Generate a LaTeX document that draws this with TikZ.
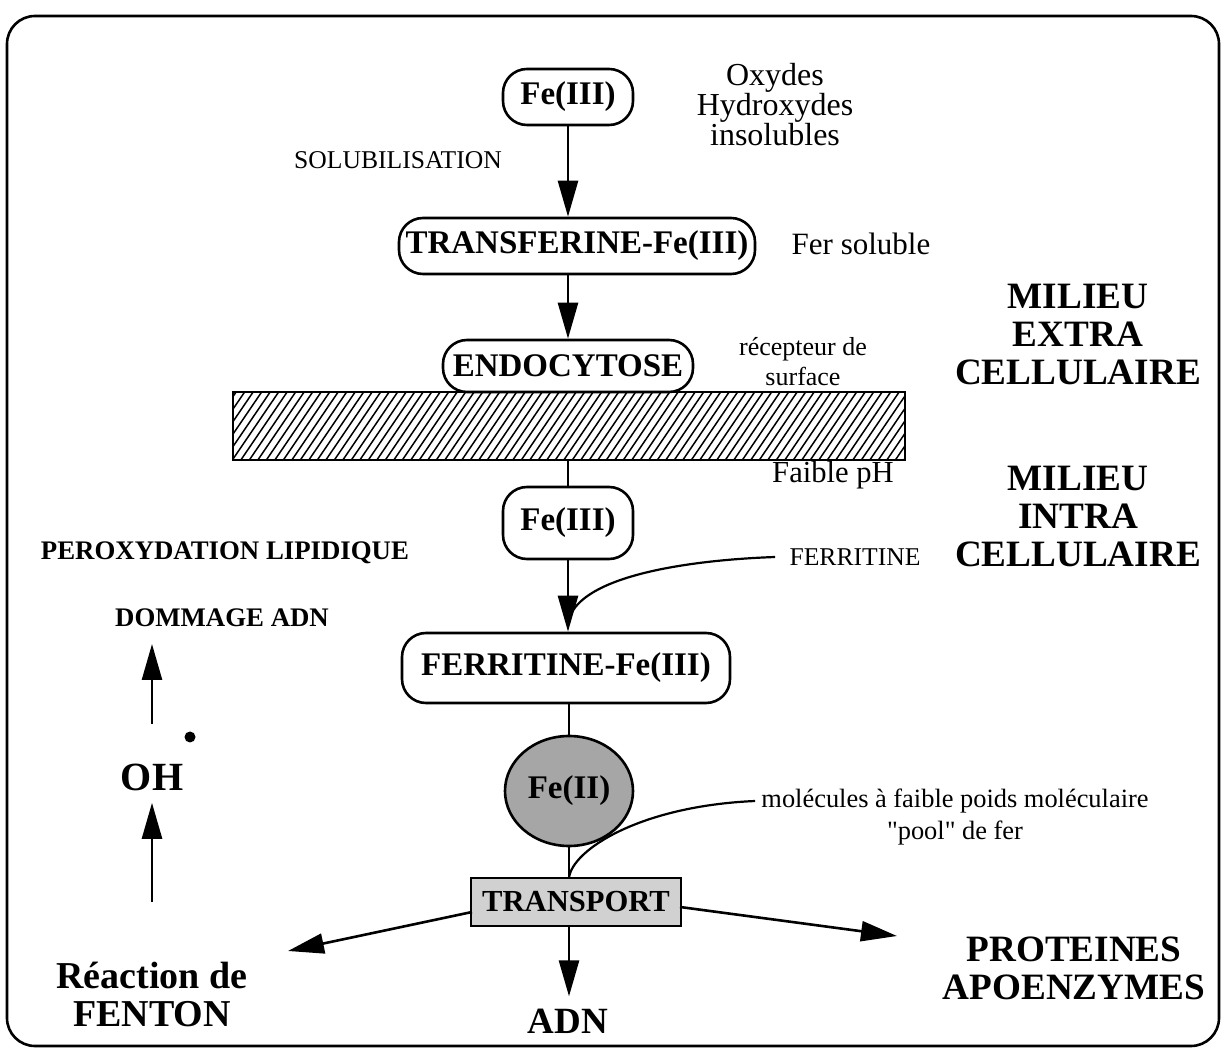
\documentclass[tikz,border=0pt]{standalone}
\usepackage{fontspec}
\setmainfont{Liberation Serif}
\usetikzlibrary{arrows.meta,shapes.geometric}
\begin{document}
\begin{tikzpicture}[x=0.5pt,y=-0.5pt,
  pill/.style={draw,line width=1.3pt,rounded corners=12pt,inner sep=0pt,
    font=\fontsize{16.5}{18}\selectfont\bfseries},
  arr/.style={line width=1.3pt,-{Triangle[length=18pt,width=10pt]}},
  link/.style={line width=1.3pt},
  thin/.style={line width=1.1pt},
  hatch/.style={line width=0.75pt},
  bigtxt/.style={font=\fontsize{18.6}{19}\selectfont\bfseries,align=center,inner sep=0pt},
  midtxt/.style={font=\fontsize{13.4}{15}\selectfont\bfseries,inner sep=0pt},
  smalltxt/.style={font=\fontsize{12.8}{15}\selectfont,align=center,inner sep=0pt},
  normtxt/.style={font=\fontsize{16}{15}\selectfont,align=center,inner sep=0pt}]
\useasboundingbox (0,0) rectangle (1226,1052);
% frame
\draw[line width=1.3pt,rounded corners=14pt] (7,16) rectangle (1219,1046);

% membrane with hatching
\begin{scope}
  \clip (233,392) rectangle (905,460);
  \foreach \hx in {180,188.5,...,915} {
    \draw[hatch] (\hx,462) -- ++(49,-72);
  }
\end{scope}
\node[draw,line width=1.3pt,inner sep=0pt,minimum width=336pt,minimum height=34pt] (memb) at (569,426) {};

% main chain
\node[pill,fill=white,minimum width=65pt,minimum height=28pt] (fe1) at (568,97) {Fe(III)};
\node[pill,minimum width=178pt,minimum height=28pt] (transf) at (577,246) {TRANSFERINE-Fe(III)};
\node[pill,minimum width=125pt,minimum height=26pt] (endo) at (568,366) {ENDOCYTOSE};
\node[pill,minimum width=65pt,minimum height=36pt] (fe2) at (568,523) {Fe(III)};
\node[pill,minimum width=164pt,minimum height=35pt] (ferr) at (566,668) {FERRITINE-Fe(III)};
\node[ellipse,draw,line width=1.3pt,fill=black!35,inner sep=0pt,minimum width=64pt,minimum height=55pt,
  font=\fontsize{16.5}{18}\selectfont\bfseries] (fe3) at (569,791) {Fe(II)};
\node[draw,line width=1.3pt,fill=black!18,inner sep=0pt,minimum width=105pt,minimum height=24pt,
  font=\fontsize{15.3}{18}\selectfont\bfseries] (transp) at (576,902) {TRANSPORT};

% side labels
\node[normtxt] (oxy) at (775,105) {Oxydes\\Hydroxydes\\insolubles};
\node[smalltxt] (solub) at (398,160) {SOLUBILISATION};
\node[font=\fontsize{15.5}{18}\selectfont,inner sep=0pt] (fsol) at (861,244) {Fer soluble};
\node[font=\fontsize{13}{15}\selectfont,align=center,inner sep=0pt] (recep) at (803,362) {récepteur de\\surface};
\node[font=\fontsize{15.3}{18}\selectfont,inner sep=0pt] (fph) at (833,475) {Faible pH};
\node[bigtxt] (mext) at (1078,335) {MILIEU\\EXTRA\\CELLULAIRE};
\node[bigtxt] (mint) at (1078,517) {MILIEU\\INTRA\\CELLULAIRE};
\node[midtxt] (perox) at (225,553) {PEROXYDATION LIPIDIQUE};
\node[smalltxt] (ferlab) at (855,557) {FERRITINE};
\node[midtxt] (domm) at (222,618) {DOMMAGE ADN};
\node[font=\fontsize{20}{22}\selectfont\bfseries,inner sep=0pt] (oh) at (152,777) {OH};
\node[circle,fill,inner sep=0pt,minimum size=5.5pt] (rad) at (190,737) {};
\node[font=\fontsize{13.2}{16}\selectfont,inner sep=0pt] (mol) at (955,801) {molécules à faible poids moléculaire};
\node[font=\fontsize{13.2}{16}\selectfont,inner sep=0pt] (pool) at (955,833) {\textquotedbl pool\textquotedbl{} de fer};
\node[font=\fontsize{19}{19}\selectfont\bfseries,align=center,inner sep=0pt] (fenton) at (152,994) {Réaction de\\FENTON};
\node[font=\fontsize{18.5}{20}\selectfont\bfseries,inner sep=0pt] (adn) at (568,1021) {ADN};
\node[bigtxt] (prot) at (1074,968) {PROTEINES\\APOENZYMES};

% connectors
\draw[arr] (fe1.south) -- (fe1.south |- transf.north);
\draw[arr] (endo.north |- transf.south) -- (endo.north);
\draw[link] (memb.south -| fe2.north) -- (fe2.north);
\draw[arr] (fe2.south) -- (fe2.south |- ferr.north);
\draw[thin] (ferlab.west) ++(-14,0) coordinate (ferstart)
  .. controls (690,560) and (590,575) .. (571,614);
\draw[link] (fe3.north |- ferr.south) -- (fe3.north);
\draw[link] (fe3.south) -- (fe3.south |- transp.north);
\draw[thin] (mol.west) ++(-6,0) coordinate (molstart)
  .. controls (640,806) and (572,850) .. (569,878);
\coordinate (fentip) at (288,951);
\coordinate (prottip) at (897,936);
\draw[arr] (transp) ++(-104,10) coordinate (tl) -- (fentip);
\draw[arr] (transp) ++(104,5) coordinate (tr) -- (prottip);
\draw[arr] (transp.south -| fe3.south) -- ([yshift=6pt]adn.north -| fe3.south);
\coordinate (ohbase) at (152,902);
\draw[arr] (ohbase) -- ([yshift=-6pt]oh.south);
\coordinate (ohtop) at (152,724);
\coordinate (dommtip) at (152,644);
\draw[arr] (ohtop) -- (dommtip);
\end{tikzpicture}
\end{document}
